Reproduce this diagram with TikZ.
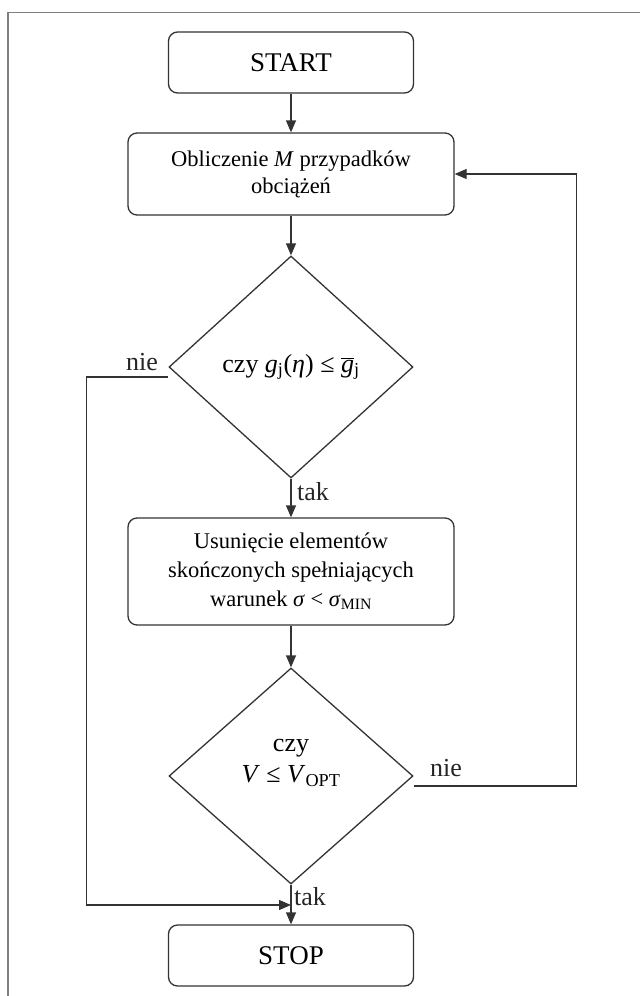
\documentclass[tikz,border=0pt]{standalone}
\usepackage{fontspec}
\setmainfont{Liberation Serif}
\usetikzlibrary{shapes.geometric,arrows.meta}

\begin{document}
\begin{tikzpicture}[x=1pt,y=-1pt,
    box/.style={draw=black!80, line width=1.3pt, rounded corners=9pt, align=center, inner sep=0pt},
    test/.style={draw=black!80, line width=1.3pt, diamond, inner sep=0pt, align=center,
      minimum width=244pt, font=\fontsize{26}{31}\selectfont},
    flow/.style={draw=black!80, line width=1.3pt, -{Triangle[length=12pt,width=10pt]}},
    lbl/.style={font=\fontsize{26}{30}\selectfont, inner sep=0pt, text=black!85}]
  \useasboundingbox (0,0) rectangle (640,996);
  \draw[gray, line width=1.2pt] (8,996) -- (8,12.7) -- (640,12.7);
  % blocks
  \node[box, minimum width=245pt, minimum height=61pt, font=\fontsize{27}{32}\selectfont] (start) at (291,62.5) {START};
  \node[box, minimum width=326pt, minimum height=82pt, font=\fontsize{22.5}{27}\selectfont] (oblicz) at (291,174)
    {Obliczenie \textit{M} przypadków\\obciążeń};
  \node[test, minimum height=222pt] (d1) at (291,367)
    {czy \textit{g}\textsubscript{j}(\textit{η})~≤~$\overline{\hbox{\textit{g}}}$\textsubscript{j}};
  \node[box, minimum width=326pt, minimum height=107pt, font=\fontsize{22.5}{29}\selectfont] (usun) at (291,571.5)
    {Usunięcie elementów\\skończonych spełniających\\warunek \textit{σ} < \textit{σ}\textsubscript{MIN}};
  \node[test, minimum height=216pt,
    label={[yshift=13pt, align=center, font=\fontsize{26}{31}\selectfont]center:czy\\\textit{V}~≤~\textit{V}\textsubscript{OPT}}] (d2) at (291,776) {};
  \node[box, minimum width=245pt, minimum height=61pt, font=\fontsize{27}{32}\selectfont] (stop) at (291,955.5) {STOP};
  % connectors
  \draw[flow] (start) -- (oblicz);
  \draw[flow] (oblicz) -- (d1);
  \draw[flow] (d1) -- (usun);
  \draw[flow] (usun) -- (d2);
  \draw[flow] (d2) -- (stop);
  \coordinate (n1) at ([yshift=-10pt]d1.west);
  \coordinate (n2) at ([yshift=-10pt]d2.east);
  \coordinate (j1) at (291,905);
  \draw[flow] (n1) -- ++(-82,0) |- (j1);
  \draw[flow] (n2) -- ++(163,0) |- (oblicz.east);
  % labels
  \node[lbl, anchor=east] (nie1) at (158,362) {nie};
  \node[lbl, anchor=west] (nie2) at (430,768) {nie};
  \node[lbl, anchor=west] (tak1) at (297,492) {tak};
  \node[lbl, anchor=west] (tak2) at (294,897) {tak};
\end{tikzpicture}
\end{document}
